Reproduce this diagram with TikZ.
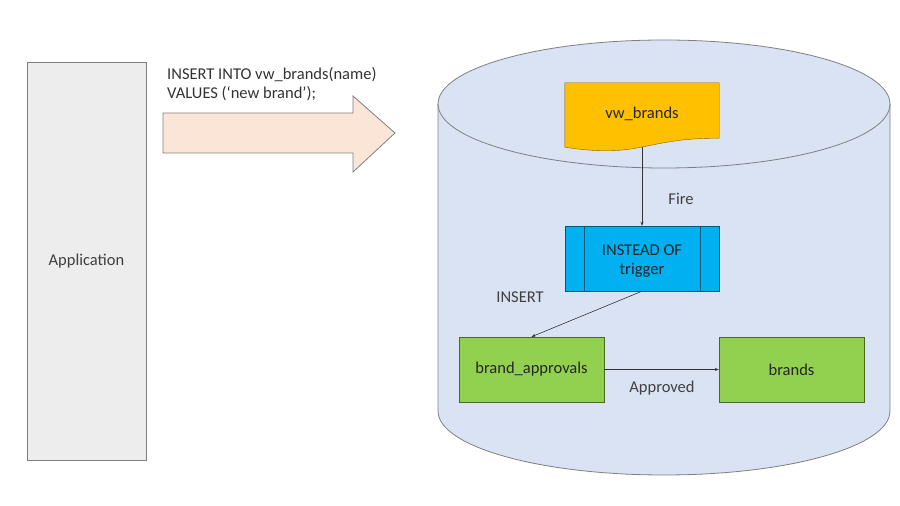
\documentclass[tikz,border=0pt]{standalone}
\usepackage{fontspec}
\setmainfont{Carlito}
\usetikzlibrary{calc,positioning,arrows.meta}

\definecolor{dbfill}{HTML}{DAE3F3}
\definecolor{appfill}{HTML}{EDEDED}
\definecolor{pushfill}{HTML}{FBE5D6}
\definecolor{viewfill}{HTML}{FFC000}
\definecolor{trigfill}{HTML}{00B0F0}
\definecolor{tabfill}{HTML}{92D050}
\definecolor{edgegray}{HTML}{7F7F7F}
\definecolor{txtgray}{HTML}{404040}

\tikzset{
  box/.style={draw=#1!50!black, minimum width=145pt, minimum height=65pt, inner sep=0pt, text=black!85},
  tablebox/.style={box=tabfill, fill=tabfill},
  flow/.style={-{Stealth[length=4pt,width=3pt]}, draw=black!80, line width=0.6pt},
  lbl/.style={text=txtgray}
}

\begin{document}
\begin{tikzpicture}[x=1pt,y=1pt,font=\fontsize{16.5}{19}\selectfont]
  \useasboundingbox (0,0) rectangle (900,506);
  % database cylinder
  \draw[edgegray, fill=dbfill, line width=0.8pt] (438,402) -- (438,95) arc (180:360:226 and 64) -- (890,402) arc (0:180:226 and 64) -- cycle;
  \draw[edgegray, line width=0.8pt] (438,402) arc (180:360:226 and 64);
  % application side
  \node (app) at (86.5,245) [draw=edgegray, fill=appfill, minimum width=119pt, minimum height=398pt, text=txtgray] {Application};
  \draw[edgegray, fill=pushfill, line width=0.8pt] (163,393) -- (353,393) -- (353,410) -- (395,373) -- (353,334) -- (353,353) -- (163,353) -- cycle;
  \node (sql) at (167,422) [anchor=west, align=left, text=black!80, inner sep=0pt] {INSERT INTO vw\_brands(name)\\VALUES (‘new brand’);};
  % objects
  \node (vw) at (642,395.5) [minimum width=154pt, minimum height=55pt, inner sep=0pt] {};
  \draw[draw=viewfill!50!black, fill=viewfill] (vw.north west) -- (vw.north east) -- (vw.south east)
     .. controls (642,368) and (642,347) .. ($(vw.south west)+(0,-9)$) -- cycle;
  \node at ($(vw.center)+(0,-3)$) [text=black!85] {vw\_brands};
  \coordinate (vwtail) at ($(vw.south)+(0,-9)$);
  \node (trig) at (642,247.5) [box=trigfill, fill=trigfill, minimum width=154pt] {};
  \draw[trigfill!50!black] ($(trig.north west)+(19,0)$) -- ($(trig.south west)+(19,0)$);
  \draw[trigfill!50!black] ($(trig.north east)+(-19,0)$) -- ($(trig.south east)+(-19,0)$);
  \node (trigtxt) at ($(trig.center)+(0,-3)$) [align=center, text=black!85] {INSTEAD OF\\trigger};
  \node (ba) at (531.5,136.5) [tablebox] {brand\_approvals};
  \node (br) at (791.5,136.5) [tablebox] {brands};
  % connectors
  \draw[flow] (vwtail) -- (trig.north);
  \draw[flow] (trig.south) -- (ba.north);
  \draw[flow] (ba.east) -- (br.west);
  \node (fire) at (681,307) [lbl] {Fire};
  \node (ins) at (520,209) [lbl] {INSERT};
  \node (appr) at (662,118) [lbl] {Approved};
\end{tikzpicture}
\end{document}
